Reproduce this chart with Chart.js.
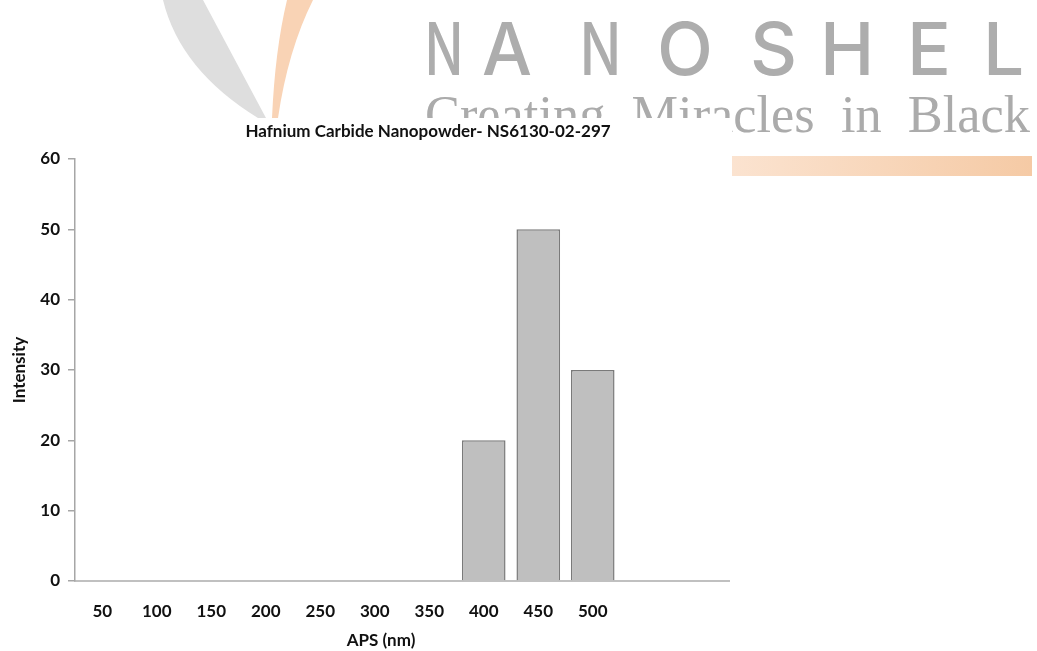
<!DOCTYPE html>
<html>
<head>
<meta charset="utf-8">
<script src="https://cdn.jsdelivr.net/npm/chart.js@4.4.0/dist/chart.umd.min.js"></script>
<style>
  html, body { margin: 0; padding: 0; background: #fff; }
  #chart { display: block; }
</style>
</head>
<body>
<canvas id="chart" width="1037" height="651"></canvas>
<script>
const chartTitle = 'Hafnium Carbide Nanopowder- NS6130-02-297';
const xTitle = 'APS (nm)';
const yTitle = 'Intensity';
const sizes = [50, 100, 150, 200, 250, 300, 350, 400, 450, 500, 550, 600];
const sizeLabels = ['50', '100', '150', '200', '250', '300', '350', '400', '450', '500', '', ''];
const intensity = [0, 0, 0, 0, 0, 0, 0, 20, 50, 30, 0, 0];
const yMin = 0, yMax = 60, yStep = 10;

const textFont = { family: 'Lato', weight: 'bold', size: 17 };

// company watermark behind the plot, and the texts Excel placed off-centre
const watermark = {
  id: 'watermark',
  beforeDraw(chart) {
    const ctx = chart.ctx;
    const W = chart.width, H = chart.height;
    ctx.save();
    ctx.fillStyle = '#fff';
    ctx.fillRect(0, 0, W, H);

    // grey swoosh
    ctx.fillStyle = '#dedede';
    ctx.beginPath();
    ctx.moveTo(163, 0);
    ctx.quadraticCurveTo(180, 70, 258, 118);
    ctx.lineTo(266, 118);
    ctx.quadraticCurveTo(235, 60, 203, 0);
    ctx.closePath();
    ctx.fill();

    // orange swoosh
    ctx.fillStyle = '#f9d3b5';
    ctx.beginPath();
    ctx.moveTo(287, 0);
    ctx.quadraticCurveTo(275, 50, 272, 118);
    ctx.lineTo(278, 118);
    ctx.quadraticCurveTo(288, 50, 313, 0);
    ctx.closePath();
    ctx.fill();

    // NANOSHEL
    ctx.fillStyle = '#adadad';
    ctx.font = '500 73px Inter';
    ctx.textBaseline = 'alphabetic';
    ctx.textAlign = 'left';
    const letters = [['N', 425, 38], ['A', 482, 50], ['N', 580, 41], ['O', 657, 63],
                     ['S', 750, 50], ['H', 820, 57], ['E', 907, 46], ['L', 983, 50]];
    letters.forEach(([ch, x, w]) => ctx.fillText(ch, x, 75, w));

    // tagline
    ctx.fillStyle = '#ababab';
    ctx.font = '52px "Liberation Serif"';
    const tag = 'Creating  Miracles  in  Black';
    const tw = ctx.measureText(tag).width;
    ctx.save();
    ctx.translate(425, 132);
    ctx.scale(605 / tw, 1);
    ctx.fillText(tag, 0, 0);
    ctx.restore();

    // orange bar
    const g = ctx.createLinearGradient(732, 0, 1032, 0);
    g.addColorStop(0, '#fbe3d0');
    g.addColorStop(1, '#f5caa5');
    ctx.fillStyle = g;
    ctx.fillRect(732, 156, 300, 20);

    // white chart background
    ctx.fillStyle = '#fff';
    ctx.fillRect(0, 118, 732, H - 118);
    ctx.restore();
  },
  afterDraw(chart) {
    const ctx = chart.ctx;
    ctx.save();
    ctx.fillStyle = '#111';
    ctx.textAlign = 'center';
    ctx.textBaseline = 'alphabetic';
    ctx.font = 'bold 17px Lato';
    ctx.fillText(chartTitle, 428, 137);
    ctx.font = 'bold 17px Lato';
    ctx.textBaseline = 'middle';
    ctx.fillText(xTitle, 381, 641);
    ctx.restore();
  }
};

new Chart(document.getElementById('chart').getContext('2d'), {
  type: 'bar',
  data: {
    labels: sizes,
    datasets: [{
      label: 'Intensity',
      data: intensity,
      backgroundColor: '#bfbfbf',
      borderColor: '#7a7a7a',
      borderWidth: 1.5,
      barPercentage: 1,
      categoryPercentage: 0.8
    }]
  },
  options: {
    responsive: false,
    animation: false,
    layout: { padding: { top: 159, right: 308, left: 0, bottom: 0 } },
    plugins: {
      legend: { display: false },
      tooltip: { enabled: false },
      title: { display: false }
    },
    scales: {
      x: {
        grid: { display: false, drawTicks: false },
        border: { color: '#c0c0c0', width: 2 },
        ticks: {
          color: '#111',
          font: textFont,
          padding: 20,
          maxRotation: 0,
          autoSkip: false,
          callback: (v, i) => sizeLabels[i]
        },
        afterFit: s => { s.height = 70; }
      },
      y: {
        min: yMin,
        max: yMax,
        grid: { drawOnChartArea: false, drawTicks: true, tickLength: 7, color: '#a6a6a6', lineWidth: 1.5 },
        border: { color: '#a6a6a6', width: 1.5 },
        ticks: { stepSize: yStep, color: '#111', font: textFont, padding: 8 },
        title: { display: true, text: yTitle, color: '#111', font: textFont, padding: { top: 9, bottom: 0 } },
        afterFit: s => { s.width = 75; }
      }
    }
  },
  plugins: [watermark]
});
</script>
</body>
</html>
